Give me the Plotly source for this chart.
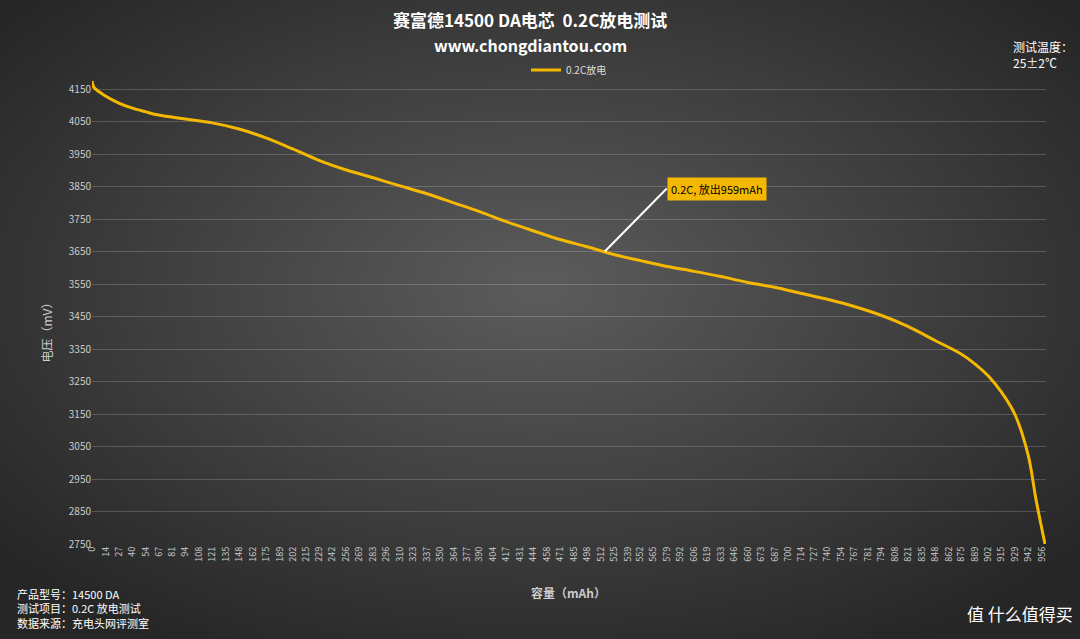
import plotly.graph_objects as go
import base64

# capacity (mAh) and voltage (mV)
cap = [0, 2, 14, 27, 40, 54, 67, 94, 121, 148, 175, 202, 229, 256, 283, 310, 337, 364, 390,
       417, 444, 471, 498, 525, 552, 579, 606, 633, 660, 687, 714, 740, 767, 794, 821, 848,
       875, 889, 902, 915, 929, 942, 950, 956, 959]
volt = [4175, 4155, 4128, 4107, 4092, 4080, 4070, 4058, 4046, 4027, 4000, 3966, 3930, 3901,
        3877, 3852, 3828, 3800, 3773, 3742, 3714, 3687, 3665, 3641, 3622, 3604, 3589, 3573,
        3555, 3540, 3521, 3503, 3481, 3454, 3420, 3377, 3334, 3303, 3267, 3218, 3147, 3024,
        2886, 2794, 2750]
x_ticks = [0, 14, 27, 40, 54, 67, 81, 94, 108, 121, 135, 148, 162, 175, 189, 202, 215, 229,
           242, 256, 269, 283, 296, 310, 323, 337, 350, 364, 377, 390, 404, 417, 431, 444,
           458, 471, 485, 498, 512, 525, 539, 552, 565, 579, 592, 606, 619, 633, 646, 660,
           673, 687, 700, 714, 727, 740, 754, 767, 781, 794, 808, 821, 835, 848, 862, 875,
           889, 902, 915, 929, 942, 956]
y_ticks = list(range(2750, 4151, 100))

font = "Noto Sans CJK SC, Noto Sans, sans-serif"
W, H, L, R, T, B = 1080, 639, 92, 34, 80, 95
pw, ph = W - L - R, H - T - B


def px(x):
    return (x - L) / pw


def py(y):
    return (H - B - y) / ph


svg = """<svg xmlns='http://www.w3.org/2000/svg' width='1080' height='639'>
<defs><radialGradient id='g' cx='50%' cy='45%' r='65%'>
<stop offset='0%' stop-color='#5c5c5c'/><stop offset='100%' stop-color='#262626'/>
</radialGradient></defs><rect width='1080' height='639' fill='url(#g)'/></svg>"""
bg = "data:image/svg+xml;base64," + base64.b64encode(svg.encode()).decode()

fig = go.Figure()
fig.add_trace(go.Scatter(x=cap, y=volt, mode="lines", name="0.2C放电",
                         line=dict(color="#f5b800", width=3, shape="spline")))

note = dict(xref="paper", yref="paper", showarrow=False)
fig.update_layout(
    width=W, height=H,
    margin=dict(l=L, r=R, t=T, b=B, autoexpand=False),
    paper_bgcolor="#333333", plot_bgcolor="rgba(0,0,0,0)",
    font=dict(family=font, color="#dddddd", size=11),
    images=[dict(source=bg, xref="paper", yref="paper", x=px(0), y=py(0),
                 sizex=W / pw, sizey=H / ph, sizing="stretch", layer="below",
                 xanchor="left", yanchor="top")],
    showlegend=True,
    legend=dict(orientation="h", x=0.5, xanchor="center", y=py(70), yanchor="middle",
                font=dict(size=10, color="#dddddd"), bgcolor="rgba(0,0,0,0)"),
    xaxis=dict(range=[0, 960], tickvals=x_ticks, ticktext=[str(t) for t in x_ticks],
               tickangle=-90, tickfont=dict(size=9, color="#cccccc"), showgrid=False,
               zeroline=False),
    yaxis=dict(range=[2750, 4178], tickvals=y_ticks, tickfont=dict(size=10, color="#cccccc"),
               gridcolor="rgba(255,255,255,0.18)", zeroline=False, ticks="", ticklen=0),
    annotations=[
        dict(x=516, y=3650, text="0.2C, 放出959mAh", showarrow=True, arrowhead=0,
             arrowcolor="white", arrowwidth=2, ax=62, ay=-63, xanchor="left",
             bgcolor="#f5b800", font=dict(color="black", size=11), borderpad=3),
        dict(text="<b>赛富德14500 DA电芯  0.2C放电测试</b>", x=px(530), y=py(20),
             yanchor="middle", font=dict(size=17, color="white"), **note),
        dict(text="<b>www.chongdiantou.com</b>", x=px(530), y=py(45), yanchor="middle",
             font=dict(size=16, color="white"), **note),
        dict(text="<b>容量（mAh）</b>", x=px(568), y=py(592), yanchor="middle",
             font=dict(size=12, color="#cccccc"), **note),
        dict(text="电压（mV）", x=px(35), y=py(330), yanchor="middle", textangle=-90,
             font=dict(size=12, color="#cccccc"), **note),
        dict(text="测试温度：<br>25±2℃", x=px(1075), y=py(36), xanchor="right", yanchor="top",
             align="left", font=dict(size=12, color="white"), **note),
        dict(text="产品型号：14500 DA<br>测试项目：0.2C 放电测试<br>数据来源：充电头网评测室",
             x=px(15), y=py(584), xanchor="left", yanchor="top", align="left",
             font=dict(size=11, color="white"), **note),
        dict(text="值 什么值得买", x=px(1075), y=py(613), xanchor="right", yanchor="middle",
             font=dict(size=17, color="white"), **note),
    ],
)

fig.write_html("out.html", config={"displayModeBar": False},
               post_script="document.body.style.margin='0';")
